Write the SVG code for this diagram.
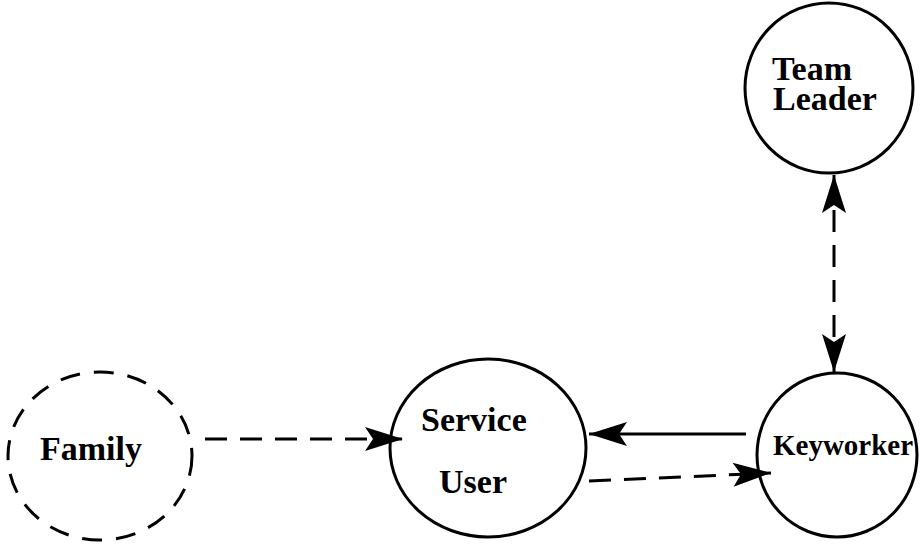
<svg xmlns="http://www.w3.org/2000/svg" width="920" height="545" viewBox="0 0 920 545">
<style>
.node{fill:none;stroke:#000;stroke-width:3}
.dashed{stroke-dasharray:20 14}
.lbl{font-family:"Liberation Serif","Times New Roman",serif;font-weight:bold;font-size:34px;fill:#000}
.con{fill:none;stroke:#000;stroke-width:3}
.dash{stroke-dasharray:22 13}
</style>
<defs>
<marker id="ah" markerUnits="userSpaceOnUse" markerWidth="40" markerHeight="30" viewBox="-40 -15 40 30" refX="0" refY="0" orient="auto-start-reverse">
<path d="M0,0 L-38,-12 L-30,0 L-38,12 Z" fill="#000"/>
</marker>
</defs>
<rect width="920" height="545" fill="#fff"/>
<g id="connectors">
<line class="con dash" x1="205" y1="439" x2="403" y2="439" marker-end="url(#ah)"/>
<line class="con" x1="746" y1="434" x2="589" y2="434" marker-end="url(#ah)"/>
<line class="con dash" x1="589" y1="481" x2="771" y2="473" marker-end="url(#ah)"/>
<line class="con dash" x1="834" y1="175" x2="834" y2="372" marker-start="url(#ah)" marker-end="url(#ah)"/>
</g>
<g id="team-leader">
<ellipse class="node" cx="829" cy="88" rx="84" ry="85"/>
<text class="lbl" x="772" y="80">Team</text>
<text class="lbl" x="773" y="110">Leader</text>
</g>
<g id="family">
<ellipse class="node dashed" cx="100" cy="456" rx="92" ry="84"/>
<text class="lbl" x="40" y="460">Family</text>
</g>
<g id="service-user">
<ellipse class="node" cx="488" cy="448" rx="98" ry="89"/>
<text class="lbl" x="421" y="431">Service</text>
<text class="lbl" x="439" y="493">User</text>
</g>
<g id="keyworker">
<ellipse class="node" cx="837" cy="455" rx="80" ry="82"/>
<text class="lbl" x="773" y="455" style="font-size:29px">Keyworker</text>
</g>
</svg>
